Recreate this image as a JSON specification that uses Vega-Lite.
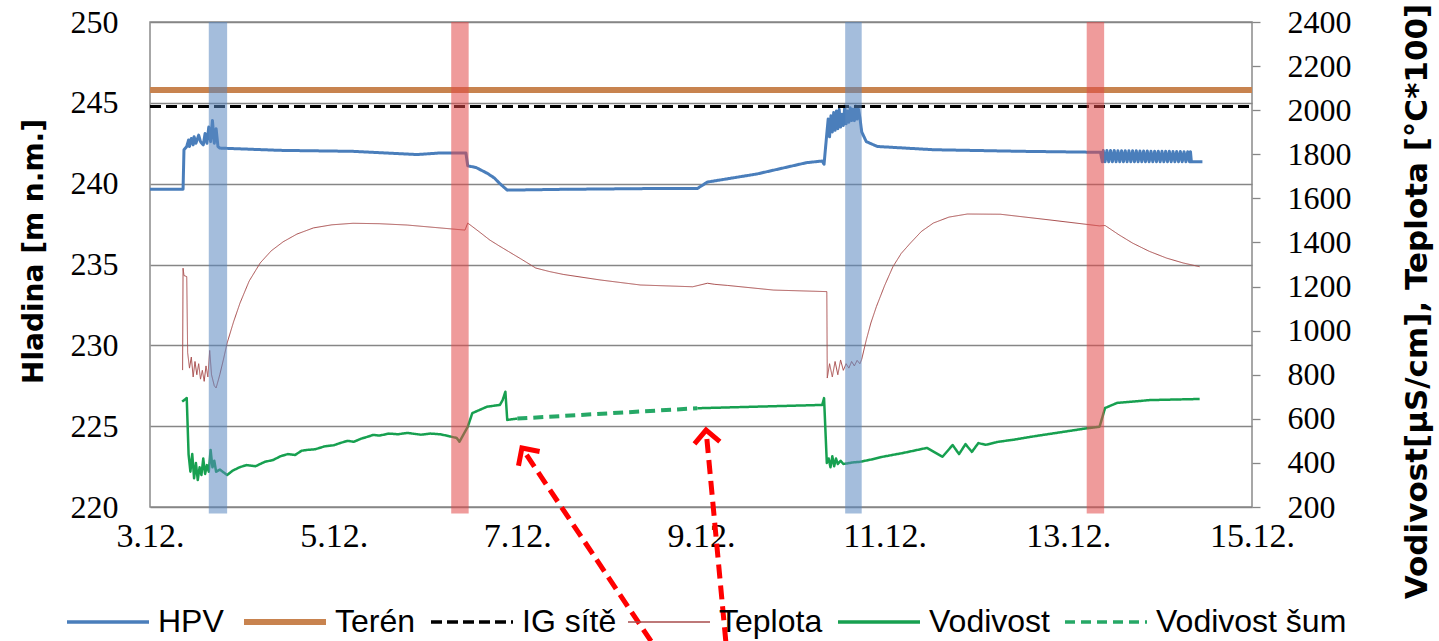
{
  "$schema": "https://vega.github.io/schema/vega-lite/v6.json",
  "width": 1102,
  "height": 485,
  "autosize": {"type": "none"},
  "padding": {"left": 150, "top": 22, "right": 187, "bottom": 134},
  "background": "white",
  "config": {
    "view": {"stroke": "#8a8a8a", "strokeWidth": 1.5},
    "axis": {"labelColor": "#000000", "titleColor": "#000000", "labelFont": "Liberation Serif", "domain": false},
    "legend": {
      "orient": "none", "legendX": -58, "legendY": 584, "direction": "horizontal", "columns": 6,
      "symbolType": "stroke", "symbolSize": 6724, "labelFont": "Liberation Sans", "labelFontSize": 32,
      "labelOffset": 34, "columnPadding": 8, "labelLimit": 400, "padding": 0, "labelColor": "#000000"
    }
  },
  "datasets": {
    "series": [
      {"s": "HPV", "d": 3.00, "v": 239.65}, {"s": "HPV", "d": 3.36, "v": 239.65}, {"s": "HPV", "d": 3.37, "v": 242.1},
      {"s": "HPV", "d": 3.40, "v": 242.3}, {"s": "HPV", "d": 3.42, "v": 242.7}, {"s": "HPV", "d": 3.43, "v": 242.3}, {"s": "HPV", "d": 3.45, "v": 242.8},
      {"s": "HPV", "d": 3.47, "v": 242.4}, {"s": "HPV", "d": 3.48, "v": 242.9}, {"s": "HPV", "d": 3.50, "v": 242.5}, {"s": "HPV", "d": 3.53, "v": 243.0},
      {"s": "HPV", "d": 3.55, "v": 242.6}, {"s": "HPV", "d": 3.58, "v": 242.4}, {"s": "HPV", "d": 3.60, "v": 243.1},
      {"s": "HPV", "d": 3.62, "v": 242.5}, {"s": "HPV", "d": 3.64, "v": 243.5}, {"s": "HPV", "d": 3.66, "v": 242.6},
      {"s": "HPV", "d": 3.68, "v": 243.9}, {"s": "HPV", "d": 3.70, "v": 242.5}, {"s": "HPV", "d": 3.72, "v": 243.4},
      {"s": "HPV", "d": 3.74, "v": 242.3}, {"s": "HPV", "d": 3.76, "v": 242.2}, {"s": "HPV", "d": 4.42, "v": 242.06},
      {"s": "HPV", "d": 5.21, "v": 242.0}, {"s": "HPV", "d": 5.91, "v": 241.8}, {"s": "HPV", "d": 6.16, "v": 241.9},
      {"s": "HPV", "d": 6.44, "v": 241.9}, {"s": "HPV", "d": 6.46, "v": 241.1}, {"s": "HPV", "d": 6.55, "v": 241.0},
      {"s": "HPV", "d": 6.67, "v": 240.65}, {"s": "HPV", "d": 6.75, "v": 240.35},
      {"s": "HPV", "d": 6.81, "v": 240.0}, {"s": "HPV", "d": 6.89, "v": 239.6}, {"s": "HPV", "d": 7.5, "v": 239.65},
      {"s": "HPV", "d": 8.5, "v": 239.7}, {"s": "HPV", "d": 8.96, "v": 239.7}, {"s": "HPV", "d": 9.07, "v": 240.1},
      {"s": "HPV", "d": 9.61, "v": 240.6}, {"s": "HPV", "d": 10.15, "v": 241.3}, {"s": "HPV", "d": 10.32, "v": 241.4},
      {"s": "HPV", "d": 10.34, "v": 241.2}, {"s": "HPV", "d": 10.37, "v": 243.1}, {"s": "HPV", "d": 10.385, "v": 244.0},
      {"s": "HPV", "d": 10.40, "v": 242.9}, {"s": "HPV", "d": 10.415, "v": 244.2}, {"s": "HPV", "d": 10.43, "v": 243.2},
      {"s": "HPV", "d": 10.445, "v": 244.4}, {"s": "HPV", "d": 10.46, "v": 243.3}, {"s": "HPV", "d": 10.475, "v": 244.5},
      {"s": "HPV", "d": 10.49, "v": 243.4}, {"s": "HPV", "d": 10.505, "v": 244.6}, {"s": "HPV", "d": 10.52, "v": 243.5},
      {"s": "HPV", "d": 10.535, "v": 244.3}, {"s": "HPV", "d": 10.55, "v": 243.6}, {"s": "HPV", "d": 10.565, "v": 244.8},
      {"s": "HPV", "d": 10.58, "v": 243.7}, {"s": "HPV", "d": 10.595, "v": 244.5}, {"s": "HPV", "d": 10.61, "v": 243.8},
      {"s": "HPV", "d": 10.625, "v": 244.7}, {"s": "HPV", "d": 10.64, "v": 243.9}, {"s": "HPV", "d": 10.655, "v": 244.6},
      {"s": "HPV", "d": 10.67, "v": 243.9}, {"s": "HPV", "d": 10.685, "v": 244.8}, {"s": "HPV", "d": 10.70, "v": 244.0},
      {"s": "HPV", "d": 10.715, "v": 244.6}, {"s": "HPV", "d": 10.73, "v": 244.1}, {"s": "HPV", "d": 10.75, "v": 243.2},
      {"s": "HPV", "d": 10.80, "v": 242.6}, {"s": "HPV", "d": 10.92, "v": 242.3}, {"s": "HPV", "d": 11.53, "v": 242.1},
      {"s": "HPV", "d": 12.5, "v": 242.0}, {"s": "HPV", "d": 13.2, "v": 241.95}, {"s": "HPV", "d": 13.35, "v": 241.95},
      {"s": "HPV", "d": 13.37, "v": 241.35}, {"s": "HPV", "d": 13.38, "v": 242.05}, {"s": "HPV", "d": 13.40, "v": 241.35},
      {"s": "HPV", "d": 13.42, "v": 242.05}, {"s": "HPV", "d": 13.44, "v": 241.35}, {"s": "HPV", "d": 13.46, "v": 242.05},
      {"s": "HPV", "d": 13.48, "v": 241.35}, {"s": "HPV", "d": 13.50, "v": 242.05}, {"s": "HPV", "d": 13.52, "v": 241.35},
      {"s": "HPV", "d": 13.54, "v": 242.04}, {"s": "HPV", "d": 13.56, "v": 241.35}, {"s": "HPV", "d": 13.58, "v": 242.04},
      {"s": "HPV", "d": 13.60, "v": 241.35}, {"s": "HPV", "d": 13.62, "v": 242.04}, {"s": "HPV", "d": 13.64, "v": 241.35},
      {"s": "HPV", "d": 13.66, "v": 242.03}, {"s": "HPV", "d": 13.68, "v": 241.35}, {"s": "HPV", "d": 13.70, "v": 242.03},
      {"s": "HPV", "d": 13.72, "v": 241.35}, {"s": "HPV", "d": 13.74, "v": 242.03}, {"s": "HPV", "d": 13.76, "v": 241.35},
      {"s": "HPV", "d": 13.78, "v": 242.02}, {"s": "HPV", "d": 13.80, "v": 241.35}, {"s": "HPV", "d": 13.82, "v": 242.02},
      {"s": "HPV", "d": 13.84, "v": 241.35}, {"s": "HPV", "d": 13.86, "v": 242.02}, {"s": "HPV", "d": 13.88, "v": 241.35},
      {"s": "HPV", "d": 13.90, "v": 242.01}, {"s": "HPV", "d": 13.92, "v": 241.35}, {"s": "HPV", "d": 13.94, "v": 242.01},
      {"s": "HPV", "d": 13.96, "v": 241.35}, {"s": "HPV", "d": 13.98, "v": 242.01}, {"s": "HPV", "d": 14.00, "v": 241.35},
      {"s": "HPV", "d": 14.02, "v": 242.0}, {"s": "HPV", "d": 14.04, "v": 241.35}, {"s": "HPV", "d": 14.06, "v": 242.0},
      {"s": "HPV", "d": 14.08, "v": 241.35}, {"s": "HPV", "d": 14.10, "v": 242.0}, {"s": "HPV", "d": 14.12, "v": 241.35},
      {"s": "HPV", "d": 14.14, "v": 241.99}, {"s": "HPV", "d": 14.16, "v": 241.35}, {"s": "HPV", "d": 14.18, "v": 241.99},
      {"s": "HPV", "d": 14.20, "v": 241.35}, {"s": "HPV", "d": 14.22, "v": 241.99}, {"s": "HPV", "d": 14.24, "v": 241.35},
      {"s": "HPV", "d": 14.26, "v": 241.98}, {"s": "HPV", "d": 14.28, "v": 241.35}, {"s": "HPV", "d": 14.30, "v": 241.98},
      {"s": "HPV", "d": 14.32, "v": 241.35}, {"s": "HPV", "d": 14.33, "v": 241.98}, {"s": "HPV", "d": 14.34, "v": 241.35},
      {"s": "HPV", "d": 14.46, "v": 241.35},
      {"s": "Terén", "d": 3, "v": 245.8}, {"s": "Terén", "d": 15, "v": 245.8},
      {"s": "IG sítě", "d": 3, "v": 244.78}, {"s": "IG sítě", "d": 15, "v": 244.78},
      {"s": "Teplota", "d": 3.355, "v": 821}, {"s": "Teplota", "d": 3.36, "v": 1283}, {"s": "Teplota", "d": 3.37, "v": 1250},
      {"s": "Teplota", "d": 3.40, "v": 1245}, {"s": "Teplota", "d": 3.41, "v": 900}, {"s": "Teplota", "d": 3.43, "v": 830},
      {"s": "Teplota", "d": 3.45, "v": 880}, {"s": "Teplota", "d": 3.47, "v": 790}, {"s": "Teplota", "d": 3.49, "v": 860},
      {"s": "Teplota", "d": 3.51, "v": 800}, {"s": "Teplota", "d": 3.53, "v": 850}, {"s": "Teplota", "d": 3.55, "v": 780},
      {"s": "Teplota", "d": 3.57, "v": 820}, {"s": "Teplota", "d": 3.59, "v": 770}, {"s": "Teplota", "d": 3.61, "v": 840},
      {"s": "Teplota", "d": 3.63, "v": 790}, {"s": "Teplota", "d": 3.65, "v": 910}, {"s": "Teplota", "d": 3.67, "v": 800},
      {"s": "Teplota", "d": 3.70, "v": 750}, {"s": "Teplota", "d": 3.72, "v": 740}, {"s": "Teplota", "d": 3.76, "v": 800},
      {"s": "Teplota", "d": 3.80, "v": 870}, {"s": "Teplota", "d": 3.84, "v": 944}, {"s": "Teplota", "d": 3.91, "v": 1040},
      {"s": "Teplota", "d": 3.98, "v": 1125}, {"s": "Teplota", "d": 4.08, "v": 1225}, {"s": "Teplota", "d": 4.20, "v": 1307},
      {"s": "Teplota", "d": 4.32, "v": 1362}, {"s": "Teplota", "d": 4.45, "v": 1403}, {"s": "Teplota", "d": 4.60, "v": 1438},
      {"s": "Teplota", "d": 4.78, "v": 1466}, {"s": "Teplota", "d": 4.98, "v": 1480}, {"s": "Teplota", "d": 5.21, "v": 1487},
      {"s": "Teplota", "d": 5.50, "v": 1485}, {"s": "Teplota", "d": 5.80, "v": 1479}, {"s": "Teplota", "d": 6.43, "v": 1456},
      {"s": "Teplota", "d": 6.46, "v": 1488}, {"s": "Teplota", "d": 6.58, "v": 1450}, {"s": "Teplota", "d": 6.70, "v": 1411},
      {"s": "Teplota", "d": 6.80, "v": 1385}, {"s": "Teplota", "d": 6.90, "v": 1360}, {"s": "Teplota", "d": 7.06, "v": 1320},
      {"s": "Teplota", "d": 7.20, "v": 1284}, {"s": "Teplota", "d": 7.35, "v": 1268}, {"s": "Teplota", "d": 7.5, "v": 1255},
      {"s": "Teplota", "d": 7.9, "v": 1230}, {"s": "Teplota", "d": 8.34, "v": 1207},
      {"s": "Teplota", "d": 8.91, "v": 1199}, {"s": "Teplota", "d": 9.07, "v": 1215}, {"s": "Teplota", "d": 9.15, "v": 1210},
      {"s": "Teplota", "d": 9.29, "v": 1205}, {"s": "Teplota", "d": 9.79, "v": 1184}, {"s": "Teplota", "d": 10.37, "v": 1177},
      {"s": "Teplota", "d": 10.375, "v": 785}, {"s": "Teplota", "d": 10.40, "v": 850}, {"s": "Teplota", "d": 10.43, "v": 790},
      {"s": "Teplota", "d": 10.46, "v": 860}, {"s": "Teplota", "d": 10.49, "v": 800}, {"s": "Teplota", "d": 10.52, "v": 867},
      {"s": "Teplota", "d": 10.55, "v": 820}, {"s": "Teplota", "d": 10.58, "v": 850}, {"s": "Teplota", "d": 10.61, "v": 830},
      {"s": "Teplota", "d": 10.64, "v": 860}, {"s": "Teplota", "d": 10.67, "v": 840}, {"s": "Teplota", "d": 10.70, "v": 865},
      {"s": "Teplota", "d": 10.73, "v": 850}, {"s": "Teplota", "d": 10.75, "v": 870}, {"s": "Teplota", "d": 10.80, "v": 958},
      {"s": "Teplota", "d": 10.85, "v": 1035}, {"s": "Teplota", "d": 10.91, "v": 1109}, {"s": "Teplota", "d": 11.00, "v": 1205},
      {"s": "Teplota", "d": 11.09, "v": 1290}, {"s": "Teplota", "d": 11.18, "v": 1350}, {"s": "Teplota", "d": 11.28, "v": 1397},
      {"s": "Teplota", "d": 11.40, "v": 1450}, {"s": "Teplota", "d": 11.53, "v": 1488}, {"s": "Teplota", "d": 11.70, "v": 1515},
      {"s": "Teplota", "d": 11.90, "v": 1529}, {"s": "Teplota", "d": 12.26, "v": 1528}, {"s": "Teplota", "d": 12.80, "v": 1502},
      {"s": "Teplota", "d": 13.34, "v": 1475}, {"s": "Teplota", "d": 13.40, "v": 1477}, {"s": "Teplota", "d": 13.55, "v": 1435},
      {"s": "Teplota", "d": 13.70, "v": 1397}, {"s": "Teplota", "d": 13.88, "v": 1360}, {"s": "Teplota", "d": 14.07, "v": 1329},
      {"s": "Teplota", "d": 14.25, "v": 1307}, {"s": "Teplota", "d": 14.43, "v": 1290},
      {"s": "Vodivost", "d": 3.35, "v": 678}, {"s": "Vodivost", "d": 3.40, "v": 694}, {"s": "Vodivost", "d": 3.42, "v": 440},
      {"s": "Vodivost", "d": 3.44, "v": 360}, {"s": "Vodivost", "d": 3.46, "v": 440}, {"s": "Vodivost", "d": 3.48, "v": 330},
      {"s": "Vodivost", "d": 3.50, "v": 400}, {"s": "Vodivost", "d": 3.52, "v": 322}, {"s": "Vodivost", "d": 3.54, "v": 380},
      {"s": "Vodivost", "d": 3.56, "v": 345}, {"s": "Vodivost", "d": 3.58, "v": 420}, {"s": "Vodivost", "d": 3.60, "v": 350},
      {"s": "Vodivost", "d": 3.62, "v": 390}, {"s": "Vodivost", "d": 3.64, "v": 360}, {"s": "Vodivost", "d": 3.66, "v": 459},
      {"s": "Vodivost", "d": 3.68, "v": 380}, {"s": "Vodivost", "d": 3.70, "v": 410}, {"s": "Vodivost", "d": 3.72, "v": 360},
      {"s": "Vodivost", "d": 3.76, "v": 370}, {"s": "Vodivost", "d": 3.84, "v": 345}, {"s": "Vodivost", "d": 3.90, "v": 365},
      {"s": "Vodivost", "d": 3.98, "v": 381}, {"s": "Vodivost", "d": 4.05, "v": 390}, {"s": "Vodivost", "d": 4.15, "v": 385},
      {"s": "Vodivost", "d": 4.25, "v": 405}, {"s": "Vodivost", "d": 4.34, "v": 413}, {"s": "Vodivost", "d": 4.42, "v": 430},
      {"s": "Vodivost", "d": 4.50, "v": 440}, {"s": "Vodivost", "d": 4.58, "v": 436}, {"s": "Vodivost", "d": 4.65, "v": 455},
      {"s": "Vodivost", "d": 4.71, "v": 459}, {"s": "Vodivost", "d": 4.80, "v": 462}, {"s": "Vodivost", "d": 4.90, "v": 475},
      {"s": "Vodivost", "d": 5.00, "v": 480}, {"s": "Vodivost", "d": 5.07, "v": 490}, {"s": "Vodivost", "d": 5.15, "v": 500},
      {"s": "Vodivost", "d": 5.22, "v": 496}, {"s": "Vodivost", "d": 5.30, "v": 510}, {"s": "Vodivost", "d": 5.38, "v": 520},
      {"s": "Vodivost", "d": 5.43, "v": 527}, {"s": "Vodivost", "d": 5.50, "v": 524}, {"s": "Vodivost", "d": 5.60, "v": 533},
      {"s": "Vodivost", "d": 5.70, "v": 530}, {"s": "Vodivost", "d": 5.80, "v": 536}, {"s": "Vodivost", "d": 5.95, "v": 528},
      {"s": "Vodivost", "d": 6.05, "v": 533}, {"s": "Vodivost", "d": 6.16, "v": 530}, {"s": "Vodivost", "d": 6.25, "v": 522},
      {"s": "Vodivost", "d": 6.34, "v": 513},
      {"s": "Vodivost", "d": 6.37, "v": 496}, {"s": "Vodivost", "d": 6.46, "v": 564}, {"s": "Vodivost", "d": 6.51, "v": 626},
      {"s": "Vodivost", "d": 6.67, "v": 655}, {"s": "Vodivost", "d": 6.81, "v": 663}, {"s": "Vodivost", "d": 6.84, "v": 685},
      {"s": "Vodivost", "d": 6.87, "v": 723}, {"s": "Vodivost", "d": 6.89, "v": 595}, {"s": "Vodivost", "d": 7.00, "v": 601},
      {"s": "Vodivost", "d": 8.00, "v": null},
      {"s": "Vodivost", "d": 8.96, "v": 648}, {"s": "Vodivost", "d": 10.32, "v": 663}, {"s": "Vodivost", "d": 10.34, "v": 694},
      {"s": "Vodivost", "d": 10.37, "v": 400}, {"s": "Vodivost", "d": 10.39, "v": 420}, {"s": "Vodivost", "d": 10.41, "v": 380},
      {"s": "Vodivost", "d": 10.43, "v": 430}, {"s": "Vodivost", "d": 10.45, "v": 385}, {"s": "Vodivost", "d": 10.47, "v": 420},
      {"s": "Vodivost", "d": 10.49, "v": 395}, {"s": "Vodivost", "d": 10.52, "v": 410}, {"s": "Vodivost", "d": 10.55, "v": 395},
      {"s": "Vodivost", "d": 10.65, "v": 402}, {"s": "Vodivost", "d": 10.73, "v": 405}, {"s": "Vodivost", "d": 10.85, "v": 415},
      {"s": "Vodivost", "d": 10.98, "v": 428}, {"s": "Vodivost", "d": 11.2, "v": 445}, {"s": "Vodivost", "d": 11.46, "v": 468},
      {"s": "Vodivost", "d": 11.63, "v": 428}, {"s": "Vodivost", "d": 11.74, "v": 481}, {"s": "Vodivost", "d": 11.81, "v": 440},
      {"s": "Vodivost", "d": 11.88, "v": 485}, {"s": "Vodivost", "d": 11.95, "v": 450}, {"s": "Vodivost", "d": 12.02, "v": 490},
      {"s": "Vodivost", "d": 12.10, "v": 482}, {"s": "Vodivost", "d": 12.24, "v": 496}, {"s": "Vodivost", "d": 12.40, "v": 505},
      {"s": "Vodivost", "d": 12.60, "v": 519}, {"s": "Vodivost", "d": 12.90, "v": 538}, {"s": "Vodivost", "d": 13.20, "v": 557},
      {"s": "Vodivost", "d": 13.34, "v": 564}, {"s": "Vodivost", "d": 13.40, "v": 649}, {"s": "Vodivost", "d": 13.53, "v": 672},
      {"s": "Vodivost", "d": 13.89, "v": 685}, {"s": "Vodivost", "d": 14.43, "v": 690},
      {"s": "Vodivost šum", "d": 7.00, "v": 601}, {"s": "Vodivost šum", "d": 8.96, "v": 648}
    ],
    "bands": [
      {"b": "modrá", "d": 3.64, "d2": 3.84},
      {"b": "červená", "d": 6.28, "d2": 6.47},
      {"b": "modrá", "d": 10.57, "d2": 10.75},
      {"b": "červená", "d": 13.20, "d2": 13.39}
    ],
    "arrows": [
      {"a": "1", "d0": 8.456, "v0": 211.7, "d": 7.05, "v": 223.65},
      {"a": "2", "d0": 9.27, "v0": 211.7, "d": 9.055, "v": 224.76}
    ]
  },
  "layer": [
    {
      "data": {"name": "series"},
      "transform": [{"filter": {"field": "s", "oneOf": ["HPV", "Terén", "IG sítě"]}}],
      "mark": {"type": "line", "strokeJoin": "round"},
      "encoding": {
        "x": {"field": "d", "type": "quantitative", "scale": {"domain": [3, 15], "nice": false, "zero": false},
          "axis": {"values": [3, 5, 7, 9, 11, 13, 15], "labelExpr": "datum.value + '.12.'", "grid": false, "ticks": false, "tickSize": 0,
            "labelFlush": false, "labelOverlap": false, "labelFontSize": 34, "labelPadding": 12, "title": null}},
        "y": {"field": "v", "type": "quantitative", "scale": {"domain": [220, 250], "nice": false, "zero": false},
          "axis": {"orient": "left", "values": [220, 225, 230, 235, 240, 245, 250], "grid": true, "gridColor": "#868686", "gridWidth": 1.3,
            "ticks": false, "tickSize": 0, "labelFontSize": 32, "labelPadding": 32, "labelFlush": false,
            "title": "Hladina [m n.m.]", "titleFont": "DejaVu Sans", "titleFontWeight": "bold", "titleFontSize": 28, "titlePadding": 22, "titleY": 229}},
        "color": {"field": "s", "type": "nominal", "title": null,
          "scale": {"domain": ["HPV", "Terén", "IG sítě", "Teplota", "Vodivost", "Vodivost šum"],
            "range": ["#4a7ebb", "#c8834f", "#000000", "#a84c4c", "#17a050", "#26a866"]},
          "legend": {"encode": {"symbols": {"update": {
            "strokeDash": {"signal": "datum.value == 'IG sítě' || datum.value == 'Vodivost šum' ? [8, 5] : [1, 0]"},
            "strokeWidth": {"signal": "datum.value == 'Terén' ? 6 : datum.value == 'Teplota' ? 1.5 : 3.5"}}}}}},
        "strokeDash": {"field": "s", "type": "nominal", "legend": null,
          "scale": {"domain": ["HPV", "Terén", "IG sítě", "Teplota", "Vodivost", "Vodivost šum"],
            "range": [[1, 0], [1, 0], [11, 5], [1, 0], [1, 0], [10, 6]]}},
        "strokeWidth": {"field": "s", "type": "nominal", "legend": null,
          "scale": {"type": "ordinal", "domain": ["HPV", "Terén", "IG sítě", "Teplota", "Vodivost", "Vodivost šum"],
            "range": [3, 6, 3, 1.5, 4, 2.5]}},
        "order": {"field": "d", "type": "quantitative"}
      }
    },
    {
      "data": {"name": "series"},
      "transform": [{"filter": {"field": "s", "oneOf": ["Teplota", "Vodivost", "Vodivost šum"]}}],
      "mark": {"type": "line", "strokeJoin": "round", "invalid": "break-paths-show-domains"},
      "encoding": {
        "x": {"field": "d", "type": "quantitative"},
        "y": {"field": "v", "type": "quantitative", "scale": {"domain": [200, 2400], "nice": false, "zero": false},
          "axis": {"orient": "right", "values": [200, 400, 600, 800, 1000, 1200, 1400, 1600, 1800, 2000, 2200, 2400], "format": "d", "grid": false,
            "ticks": true, "tickSize": 8, "tickColor": "#868686", "tickWidth": 1.3, "labelFontSize": 32, "labelPadding": 27, "labelFlush": false,
            "title": "Vodivost[µS/cm], Teplota [°C*100]", "titleFont": "DejaVu Sans", "titleFontWeight": "bold", "titleFontSize": 31,
            "titleAngle": -90, "titlePadding": 82, "titleY": 279}},
        "color": {"field": "s", "type": "nominal", "title": null},
        "strokeDash": {"field": "s", "type": "nominal", "legend": null},
        "strokeWidth": {"field": "s", "type": "nominal", "legend": null},
        "order": {"field": "d", "type": "quantitative"}
      }
    },
    {
      "layer": [
        {
          "data": {"name": "bands"},
          "mark": {"type": "rect", "opacity": 0.55},
          "encoding": {
            "x": {"field": "d", "type": "quantitative"},
            "x2": {"field": "d2"},
            "y": {"datum": 250, "type": "quantitative", "scale": {"domain": [220, 250], "nice": false, "zero": false}, "axis": null},
            "y2": {"datum": 219.6},
            "fill": {"field": "b", "type": "nominal", "legend": null,
              "scale": {"domain": ["modrá", "červená"], "range": ["#5a86c0", "#e24848"]}}
          }
        },
        {
          "data": {"name": "arrows"},
          "mark": {"type": "rule", "color": "#ff0000", "strokeWidth": 5, "strokeDash": [14, 7]},
          "encoding": {
            "x": {"field": "d0", "type": "quantitative"},
            "x2": {"field": "d"},
            "y": {"field": "v0", "type": "quantitative", "scale": {"domain": [220, 250], "nice": false, "zero": false}, "axis": null},
            "y2": {"field": "v"}
          }
        },
        {
          "data": {"name": "arrows"},
          "transform": [{"filter": "datum.a == '1'"}],
          "mark": {"type": "point", "shape": "M-0.9,0.9L0,0L0.9,0.9", "filled": false, "stroke": "#ff0000", "strokeWidth": 5, "size": 800, "angle": 326, "opacity": 1},
          "encoding": {
            "x": {"field": "d", "type": "quantitative"},
            "y": {"field": "v", "type": "quantitative", "scale": {"domain": [220, 250], "nice": false, "zero": false}, "axis": null}
          }
        },
        {
          "data": {"name": "arrows"},
          "transform": [{"filter": "datum.a == '2'"}],
          "mark": {"type": "point", "shape": "M-0.9,0.9L0,0L0.9,0.9", "filled": false, "stroke": "#ff0000", "strokeWidth": 5, "size": 800, "angle": 355, "opacity": 1},
          "encoding": {
            "x": {"field": "d", "type": "quantitative"},
            "y": {"field": "v", "type": "quantitative", "scale": {"domain": [220, 250], "nice": false, "zero": false}, "axis": null}
          }
        }
      ]
    }
  ],
  "resolve": {"scale": {"y": "independent"}}
}
